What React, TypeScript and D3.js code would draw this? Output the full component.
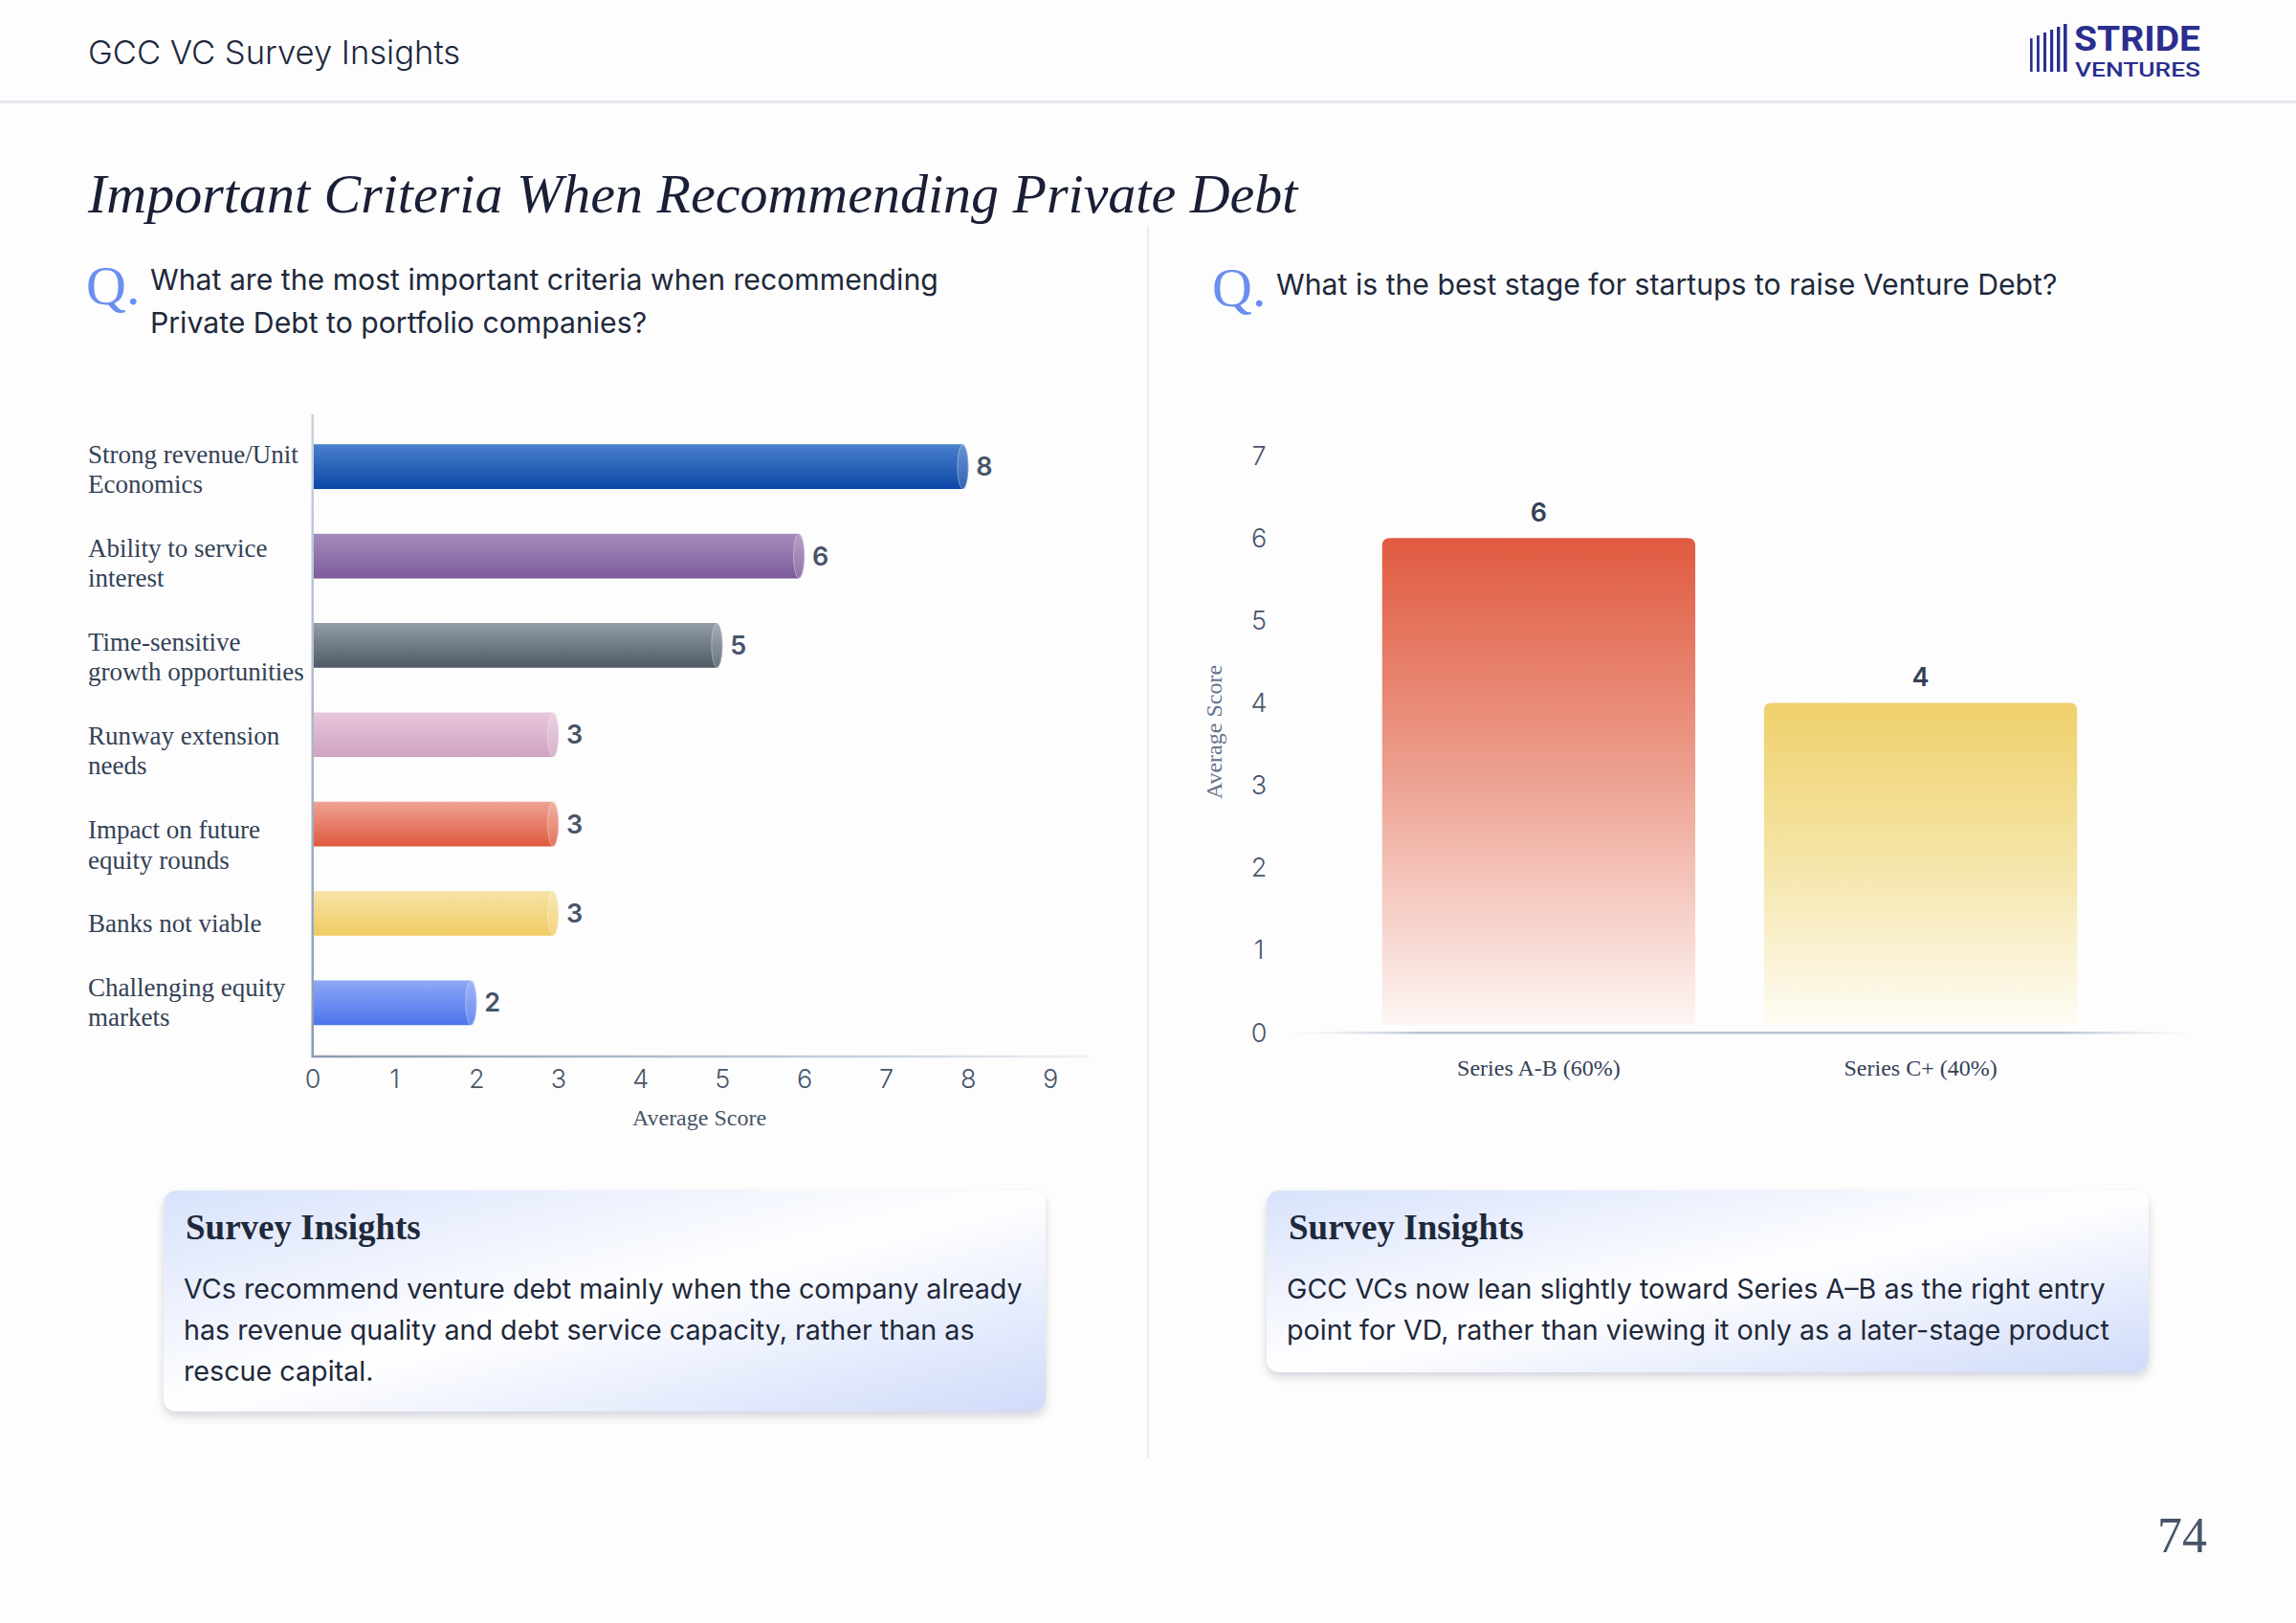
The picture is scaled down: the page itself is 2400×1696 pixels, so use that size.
import React from 'react';
import * as d3 from 'd3';

// Criteria chart (horizontal cylinders)
const criteria = [
  'Strong revenue/Unit Economics',
  'Ability to service interest',
  'Time-sensitive growth opportunities',
  'Runway extension needs',
  'Impact on future equity rounds',
  'Banks not viable',
  'Challenging equity markets',
];
const criteriaScores = [8, 6, 5, 3, 3, 3, 2];
const criteriaTicks = [0, 1, 2, 3, 4, 5, 6, 7, 8, 9];
const criteriaColors = [
  ['#4a80cc', '#0a46a6'],
  ['#a58cbc', '#7c5b9b'],
  ['#929da8', '#4d5965'],
  ['#e6c8dc', '#d0a2c2'],
  ['#eea394', '#df5a3f'],
  ['#f6e3a6', '#f0cb63'],
  ['#8fa8f5', '#4c75ee'],
];

// Stage chart (vertical faded bars)
const stages = ['Series A-B (60%)', 'Series C+ (40%)'];
const stageScores = [6, 4];
const stageTicks = [0, 1, 2, 3, 4, 5, 6, 7];
const stageColors = [
  ['#e05a40', '#ec9a89', '#fdf6f4'],
  ['#efd06b', '#f4e3a2', '#fefcf4'],
];

const leftInsight = [
  'VCs recommend venture debt mainly when the company already',
  'has revenue quality and debt service capacity, rather than as',
  'rescue capital.',
];
const rightInsight = [
  'GCC VCs now lean slightly toward Series A\u2013B as the right entry',
  'point for VD, rather than viewing it only as a later-stage product',
];

const SANS = 'Inter, "Noto Sans", sans-serif';
const SERIF = '"Liberation Serif", "DejaVu Serif", serif';
const INK = '#1e293b';
const MUTED = '#475569';

// greedy word wrap by character count
function wrap(label: string, max = 20): string[] {
  const lines: string[] = [];
  let cur = '';
  label.split(' ').forEach(w => {
    const next = cur ? cur + ' ' + w : w;
    if (next.length > max && cur) {
      lines.push(cur);
      cur = w;
    } else cur = next;
  });
  if (cur) lines.push(cur);
  return lines;
}

function CriteriaChart() {
  const x = d3.scaleLinear().domain([0, 9]).range([327, 1098]);
  const y = d3.scaleBand<string>().domain(criteria).range([441, 1094.5])
    .paddingInner(0.5).paddingOuter(0.25);
  const axisY = 1104;
  const rx = 6;
  const h = y.bandwidth();

  // labels sit in a column spread top-to-bottom with equal gaps between blocks
  const lineH = 31.4;
  const wrapped = criteria.map(c => wrap(c));
  const colTop = 459;
  const colBottom = 1079;
  const used = d3.sum(wrapped, l => l.length * lineH);
  const gap = (colBottom - colTop - used) / (wrapped.length - 1);
  const blockTops: number[] = [];
  wrapped.reduce((top, l) => {
    blockTops.push(top);
    return top + l.length * lineH + gap;
  }, colTop);

  return (
    <g>
      <defs>
        {criteriaColors.map((c, i) => (
          <linearGradient key={i} id={`cg${i}`} x1="0" y1="0" x2="0" y2="1">
            <stop offset="0%" stopColor={c[0]} />
            <stop offset="100%" stopColor={c[1]} />
          </linearGradient>
        ))}
        <linearGradient id="xAxisFade" x1="0" y1="0" x2="1" y2="0">
          <stop offset="0%" stopColor="#8b9bb0" />
          <stop offset="70%" stopColor="#c5d0dd" />
          <stop offset="100%" stopColor="#eef2f6" />
        </linearGradient>
        <linearGradient id="yAxisFade" x1="0" y1="1" x2="0" y2="0">
          <stop offset="0%" stopColor="#8b9bb0" />
          <stop offset="100%" stopColor="#c9d2de" />
        </linearGradient>
      </defs>

      {criteria.map((c, i) => {
        const y0 = y(c)!;
        const y1 = y0 + h;
        const xe = x(criteriaScores[i]) - rx;
        const d = `M${x(0)},${y0} H${xe} A${rx},${h / 2} 0 0 1 ${xe},${y1} H${x(0)} Z`;
        return (
          <g key={c}>
            <path d={d} fill={`url(#cg${i})`} />
            <ellipse cx={xe} cy={y0 + h / 2} rx={rx - 0.5} ry={h / 2 - 0.5}
              fill="#ffffff" fillOpacity={0.16} stroke="#ffffff" strokeOpacity={0.35} strokeWidth={1} />
            <text x={x(criteriaScores[i]) + 8} y={y0 + h / 2} dominantBaseline="central"
              fontFamily={SANS} fontWeight={600} fontSize={27} fill={MUTED}>
              {criteriaScores[i]}
            </text>
            {wrapped[i].map((line, k) => (
              <text key={k} x={92} y={blockTops[i] + (k + 0.5) * lineH}
                dominantBaseline="central" fontFamily={SERIF} fontSize={27} fill="#334155">
                {line}
              </text>
            ))}
          </g>
        );
      })}

      <rect x={x(0) - 1.5} y={433} width={2.5} height={axisY - 433} fill="url(#yAxisFade)" />
      <rect x={x(0) - 1.5} y={axisY - 1.25} width={1140 - x(0)} height={2.5} fill="url(#xAxisFade)" />

      {criteriaTicks.map(t => (
        <text key={t} x={x(t)} y={1127} textAnchor="middle" dominantBaseline="central"
          fontFamily={SANS} fontWeight={300} fontSize={27} fill={MUTED}>{t}</text>
      ))}
      <text x={731} y={1168} textAnchor="middle" dominantBaseline="central"
        fontFamily={SERIF} fontSize={24} fill={MUTED}>Average Score</text>
    </g>
  );
}

function StageChart() {
  const x = d3.scaleBand<string>().domain(stages).range([1341, 2275])
    .paddingInner(0.18).paddingOuter(0.26);
  const y = d3.scaleLinear().domain([0, 7]).range([1079, 476]);
  const r = 8;

  return (
    <g>
      <defs>
        {stageColors.map((c, i) => (
          <linearGradient key={i} id={`sg${i}`} x1="0" y1="0" x2="0" y2="1">
            <stop offset="0%" stopColor={c[0]} />
            <stop offset="45%" stopColor={c[1]} />
            <stop offset="100%" stopColor={c[2]} />
          </linearGradient>
        ))}
        <linearGradient id="baseFade" x1="0" y1="0" x2="1" y2="0">
          <stop offset="0%" stopColor="#e2e8f0" stopOpacity={0} />
          <stop offset="15%" stopColor="#b8c3d1" />
          <stop offset="85%" stopColor="#b8c3d1" />
          <stop offset="100%" stopColor="#e2e8f0" stopOpacity={0} />
        </linearGradient>
      </defs>

      {stageTicks.map(t => (
        <text key={t} x={1316} y={y(t)} textAnchor="middle" dominantBaseline="central"
          fontFamily={SANS} fontWeight={300} fontSize={27} fill={MUTED}>{t}</text>
      ))}
      <text transform={`translate(1269,765) rotate(-90)`} textAnchor="middle" dominantBaseline="central"
        fontFamily={SERIF} fontSize={24} fill="#64748b">Average Score</text>

      {stages.map((s, i) => {
        const x0 = x(s)!;
        const w = x.bandwidth();
        const top = y(stageScores[i]);
        const bottom = y(0) - 8;
        const d = `M${x0},${bottom} V${top + r} Q${x0},${top} ${x0 + r},${top} H${x0 + w - r} Q${x0 + w},${top} ${x0 + w},${top + r} V${bottom} Z`;
        return (
          <g key={s}>
            <path d={d} fill={`url(#sg${i})`} />
            <text x={x0 + w / 2} y={top - 27} textAnchor="middle" dominantBaseline="central"
              fontFamily={SANS} fontWeight={600} fontSize={27} fill="#334155">{stageScores[i]}</text>
            <text x={x0 + w / 2} y={1116} textAnchor="middle" dominantBaseline="central"
              fontFamily={SERIF} fontSize={24} fill="#334155">{s}</text>
          </g>
        );
      })}
      <rect x={1340} y={y(0) - 1} width={960} height={2.5} fill="url(#baseFade)" />
    </g>
  );
}

function InsightBox({ x, y, w, h, lines }: { x: number; y: number; w: number; h: number; lines: string[] }) {
  return (
    <g>
      <rect x={x} y={y} width={w} height={h} rx={14} fill="url(#boxGrad)" filter="url(#boxShadow)" />
      <text x={x + 23} y={y + 51} fontFamily={SERIF} fontWeight={700} fontSize={37} fill={INK}>Survey Insights</text>
      {lines.map((l, i) => (
        <text key={i} x={x + 21} y={y + 113 + i * 43} fontFamily={SANS} fontSize={28.7} fill={INK}>{l}</text>
      ))}
    </g>
  );
}

function Logo() {
  const bars = d3.range(6);
  const bx = d3.scaleLinear().domain([0, 5]).range([2122, 2157]);
  const by = d3.scaleLinear().domain([0, 5]).range([40, 25]);
  return (
    <g fill="#2b2e8f">
      {bars.map(b => (
        <rect key={b} x={bx(b)} y={by(b)} width={2.6 + b * 0.2} height={75 - by(b)} />
      ))}
      <text x={2168} y={52.5} fontFamily="Roboto, Inter, sans-serif" fontWeight={700} fontSize={36}
        textLength={132} lengthAdjust="spacingAndGlyphs">STRIDE</text>
      <text x={2169} y={80} fontFamily="Roboto, Inter, sans-serif" fontWeight={500} fontSize={20}
        textLength={131} lengthAdjust="spacingAndGlyphs">VENTURES</text>
    </g>
  );
}

export default function App() {
  return (
    <div style={{ position: 'absolute', left: 0, top: 0, width: 2400, height: 1696, background: '#fff' }}>
      <svg width={2400} height={1696} viewBox="0 0 2400 1696" style={{ display: 'block' }}>
        <defs>
          <linearGradient id="boxGrad" x1="0" y1="0" x2="1" y2="1">
            <stop offset="0%" stopColor="#d8e2fb" />
            <stop offset="50%" stopColor="#ffffff" />
            <stop offset="100%" stopColor="#d0dbfa" />
          </linearGradient>
          <filter id="boxShadow" x="-5%" y="-10%" width="110%" height="130%">
            <feDropShadow dx="0" dy="5" stdDeviation="5" floodColor="#0f172a" floodOpacity="0.16" />
          </filter>
        </defs>
        <rect width={2400} height={1696} fill="#fdfdfd" />

        {/* header */}
        <text x={92} y={67} fontFamily={SANS} fontWeight={300} fontSize={34.6} fill={INK}>GCC VC Survey Insights</text>
        <Logo />
        <rect x={0} y={105} width={2400} height={3} fill="#e3e8ee" />

        <text x={92} y={222} fontFamily={SERIF} fontStyle="italic" fontSize={58} fill="#1a1f36">
          Important Criteria When Recommending Private Debt
        </text>

        <rect x={1199} y={237} width={2} height={1286} fill="#e8ecf1" />

        {/* questions */}
        <text x={90} y={318} fontFamily={SERIF} fontSize={58} fill="#6a8ff0">Q.</text>
        <text x={157} y={303} fontFamily={SANS} fontSize={30.2} fill={INK}>What are the most important criteria when recommending</text>
        <text x={157} y={348} fontFamily={SANS} fontSize={30.2} fill={INK}>Private Debt to portfolio companies?</text>

        <text x={1267} y={320} fontFamily={SERIF} fontSize={58} fill="#6a8ff0">Q.</text>
        <text x={1334} y={308} fontFamily={SANS} fontSize={30.2} fill={INK}>What is the best stage for startups to raise Venture Debt?</text>

        <CriteriaChart />
        <StageChart />

        <InsightBox x={171} y={1244} w={922} h={231} lines={leftInsight} />
        <InsightBox x={1324} y={1244} w={922} h={190} lines={rightInsight} />

        <text x={2307} y={1622} textAnchor="end" fontFamily={SERIF} fontSize={52} fill={MUTED}>74</text>
      </svg>
    </div>
  );
}
